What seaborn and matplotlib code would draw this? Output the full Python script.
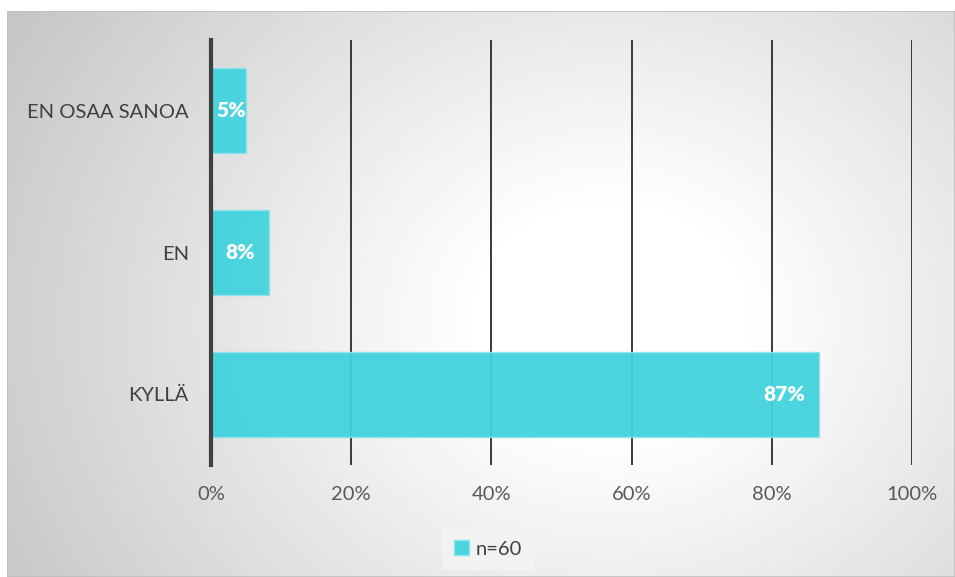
import numpy as np
import pandas as pd
import matplotlib
matplotlib.use("Agg")
import matplotlib.pyplot as plt
import seaborn as sns
from matplotlib.patches import Rectangle

categories = ["EN OSAA SANOA", "EN", "KYLLÄ"]
values = [5.0, 8.3, 86.7]
value_labels = ["5%", "8%", "87%"]
series_name = "n=60"
x_ticks = [0, 20, 40, 60, 80, 100]
x_tick_labels = ["0%", "20%", "40%", "60%", "80%", "100%"]

sns.set_theme(style="white")
plt.rcParams["font.family"] = ["Lato", "DejaVu Sans"]

W, H = 955, 577
fig = plt.figure(figsize=(W / 100, H / 100), dpi=100)
fig.patch.set_facecolor("white")

# background with radial gradient
bx0, by0 = 7, 11
bg = fig.add_axes([bx0 / W, 0, (W - bx0) / W, (H - by0) / H], zorder=-10)
yy, xx = np.mgrid[by0:H, bx0:W]
cx, cy = 610, 320
d = np.sqrt(((xx - cx) / 1.0) ** 2 + ((yy - cy) / 0.85) ** 2)
v = 1 - np.clip((d - 140) / (690 - 140), 0, 1) * 0.22
v = np.clip(v, 0, 1)
bg.imshow(np.dstack([v, v, v]), aspect="auto", extent=[0, 1, 0, 1], interpolation="bilinear")
bg.set_axis_off()
bg.add_patch(Rectangle((0, 0), 1, 1, transform=bg.transAxes, fill=False,
                       edgecolor="#bfbfbf", linewidth=1.2))

ax = fig.add_axes([211 / W, 1 - 465 / H, (912 - 211) / W, (465 - 40) / H])
ax.patch.set_alpha(0)

df = pd.DataFrame({"cat": categories, "val": values, "series": [series_name] * 3})
sns.barplot(data=df, y="cat", x="val", hue="series", order=categories,
            palette=["#42D3DD"], saturation=1, orient="h", width=0.6, dodge=False,
            alpha=0.95, edgecolor="#8fe3ea", linewidth=1.0, ax=ax, zorder=3,
            legend=True)

ax.set_xlim(0, 100)
ax.set_ylim(2.5, -0.5)
ax.set_xticks(x_ticks)
ax.set_xticklabels(x_tick_labels)
ax.set_xlabel("")
ax.set_ylabel("")
for xv in x_ticks[1:]:
    ax.axvline(xv, color="#2b2b2b", linewidth=1.3, zorder=1)
for s in ["top", "right", "bottom"]:
    ax.spines[s].set_visible(False)
ax.spines["left"].set_color("#404040")
ax.spines["left"].set_linewidth(3.0)
ax.spines["left"].set_zorder(4)
ax.tick_params(axis="x", length=0, pad=15, labelsize=14.5, labelcolor="#595959")
ax.tick_params(axis="y", length=0, pad=16, labelsize=14.5, labelcolor="#404040")

for i, (val, lab) in enumerate(zip(values, value_labels)):
    if val < 6:
        ax.annotate(lab, (0, i), xytext=(4, 0), textcoords="offset points",
                    ha="left", va="center", color="white", fontweight="heavy",
                    fontsize=15, zorder=5)
    else:
        ax.annotate(lab, (val, i), xytext=(-10, 0), textcoords="offset points",
                    ha="right", va="center", color="white", fontweight="heavy",
                    fontsize=15, zorder=5)

leg = ax.get_legend()
handles, labels = ax.get_legend_handles_labels()
leg.remove()
fig.legend(handles, labels, loc="center", bbox_to_anchor=(488 / W, 1 - 549 / H),
           frameon=True, facecolor="#f2f2f2", edgecolor="none", framealpha=1,
           fontsize=14.5, handlelength=0.75, handleheight=0.75, handletextpad=0.3,
           borderpad=0.6, labelcolor="#404040", fancybox=False)

fig.savefig("out.png", dpi=100)
